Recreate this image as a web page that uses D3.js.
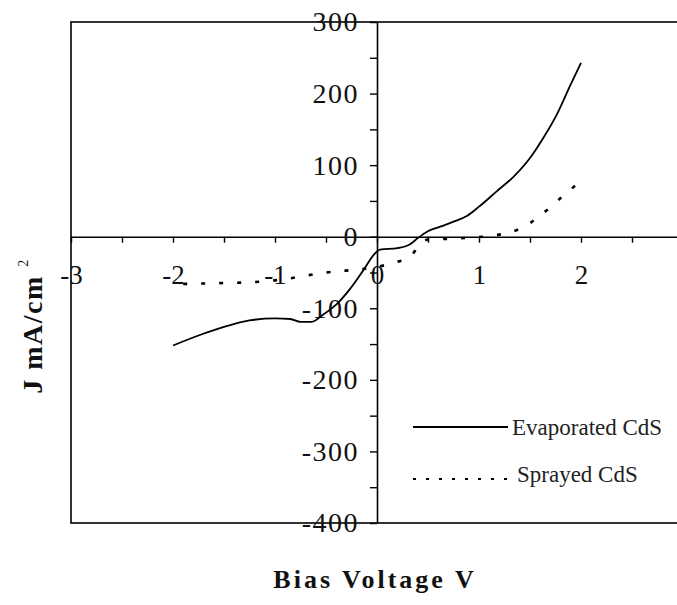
<!DOCTYPE html>
<html><head><meta charset="utf-8">
<script src="https://cdn.jsdelivr.net/npm/d3@7"></script>
<style>
html,body{margin:0;padding:0;background:#fff;overflow:hidden;}
svg{display:block;}
svg text{font-family:"Liberation Serif","Times New Roman","DejaVu Serif",serif;}
</style>
</head><body>
<svg id="chart" width="677" height="605"></svg>
<script>
// ---- data ----
const evapV = [-2.0,-1.75,-1.5,-1.25,-1.0,-0.85,-0.75,-0.64,-0.53,-0.4,-0.27,-0.13,-0.03,0.03,0.2,0.32,0.4,0.49,0.62,0.75,0.88,1.0,1.17,1.34,1.5,1.63,1.76,1.89,2.0];
const evapJ = [-152,-138,-126,-117,-114,-115,-119,-119,-109,-95,-74,-46,-25,-18,-16,-11,-2,7,14,21,29,42,63,84,110,138,170,210,243];
const sprayV = [-1.9,-1.6,-1.3,-1.0,-0.8,-0.6,-0.4,-0.2,0.0,0.1,0.2,0.3,0.35,0.4,0.45,0.5,0.7,0.9,1.1,1.3,1.4,1.5,1.6,1.7,1.8,1.9,1.97];
const sprayJ = [-66,-65,-64,-61,-57,-52,-48.5,-46,-42,-39,-35,-30,-24,-14,-7,-4,-3,-1.5,1,6,11,19,30,41,54,66,75];
const xTickValues = [-3,-2.5,-2,-1.5,-1,-0.5,0,0.5,1,1.5,2,2.5];
const xTickLabels = ["-3","-2","-1","0","1","2"];
const yTickValues = [-400,-350,-300,-250,-200,-150,-100,-50,0,50,100,150,200,250,300];
const yTickLabels = ["-400","-300","-200","-100","0","100","200","300"];
const seriesNames = ["Evaporated CdS","Sprayed CdS"];
const xTitle = "Bias Voltage V";

// ---- layout ----
const svg = d3.select("#chart");
const x = d3.scaleLinear().domain([-3,3]).range([71,683]);
const y = d3.scaleLinear().domain([-400,300]).range([523,22]);

// frame
svg.append("rect")
  .attr("x", x(-3)).attr("y", y(300))
  .attr("width", x(3)-x(-3)).attr("height", y(-400)-y(300))
  .attr("fill","none").attr("stroke","#000").attr("stroke-width",1.6);

// x axis through y=0
const xAxis = d3.axisBottom(x).tickValues(xTickValues).tickSizeInner(6).tickSizeOuter(0).tickPadding(32)
  .tickFormat(d => xTickLabels.includes(String(d)) ? String(d) : "");
const gx = svg.append("g").attr("transform",`translate(0,${y(0)})`).call(xAxis);
gx.attr("font-family",null);
gx.select(".domain").attr("stroke","#000").attr("stroke-width",1.6);
gx.selectAll(".tick line").attr("stroke","#000").attr("stroke-width",1.4);
gx.selectAll(".tick text").attr("font-size",27).attr("fill","#111").attr("dy","0.35em");

// y axis through x=0
const yAxis = d3.axisLeft(y).tickValues(yTickValues).tickSizeInner(7).tickSizeOuter(0).tickPadding(11)
  .tickFormat(d => yTickLabels.includes(String(d)) ? String(d) : "");
const gy = svg.append("g").attr("transform",`translate(${x(0)},0)`).call(yAxis);
gy.attr("font-family",null);
gy.select(".domain").attr("stroke","#000").attr("stroke-width",1.6);
gy.selectAll(".tick line").attr("stroke","#000").attr("stroke-width",1.4);
gy.selectAll(".tick text").attr("font-size",28).attr("fill","#111")
  .attr("letter-spacing","1.5px");

// curves
const line = d3.line().x(d => x(d[0])).y(d => y(d[1])).curve(d3.curveMonotoneX);
const evap = evapV.map((v,i) => [v, evapJ[i]]);
const spray = sprayV.map((v,i) => [v, sprayJ[i]]);
svg.append("path").datum(evap).attr("d", line)
  .attr("fill","none").attr("stroke","#000").attr("stroke-width",1.8);
svg.append("path").datum(spray).attr("d", line)
  .attr("fill","none").attr("stroke","#000").attr("stroke-width",2.6)
  .attr("stroke-dasharray","4,14");

// legend
const lg = svg.append("g");
lg.append("line").attr("x1",413).attr("x2",508).attr("y1",427).attr("y2",427)
  .attr("stroke","#000").attr("stroke-width",1.8);
lg.append("text").attr("x",512).attr("y",435).text(seriesNames[0])
  .attr("font-size",23).attr("fill","#222");
lg.append("line").attr("x1",413).attr("x2",512).attr("y1",479).attr("y2",479)
  .attr("stroke","#000").attr("stroke-width",2).attr("stroke-dasharray","3,10");
lg.append("text").attr("x",517).attr("y",482).text(seriesNames[1])
  .attr("font-size",23).attr("fill","#222");

// axis titles
svg.append("text").attr("x",375).attr("y",588).attr("text-anchor","middle")
  .attr("font-size",26).attr("font-weight","bold")
  .attr("letter-spacing","3px").attr("fill","#111").text(xTitle);

const yt = svg.append("text").attr("transform","translate(42,326) rotate(-90)")
  .attr("text-anchor","middle").attr("font-size",28)
  .attr("font-weight","bold").attr("letter-spacing","1.5px").attr("fill","#111");
yt.append("tspan").text("J mA/cm ");
yt.append("tspan").attr("font-size",14).attr("font-weight","normal").attr("dy","-1em").text("2");
</script>
</body></html>
